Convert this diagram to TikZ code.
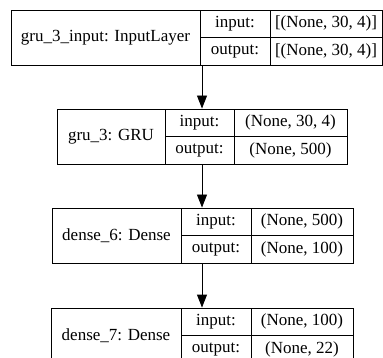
\documentclass[tikz,border=0pt]{standalone}
\usepackage{fontspec}
\setmainfont{Liberation Serif}
\usetikzlibrary{arrows.meta}
\tikzset{
  cell/.style={draw=black, line width=0.9pt, inner sep=0pt, font=\fontsize{17}{20}\selectfont},
  arr/.style={draw=black, line width=0.9pt, -{Triangle[length=13pt,width=10pt]}}
}
% name, x-left, x-div1, x-div2, x-right, y-top, label, input, output
\newcommand\klayer[9]{%
  \node[cell, minimum width={(#3-#2)*1pt}, minimum height=55pt] (#1l) at ({(#2+#3)/2},{#6+27.5}) {#7};
  \node[cell, minimum width={(#4-#3)*1pt}, minimum height=27.5pt] (#1ik) at ({(#3+#4)/2},{#6+13.75}) {input:};
  \node[cell, minimum width={(#5-#4)*1pt}, minimum height=27.5pt] (#1iv) at ({(#4+#5)/2},{#6+13.75}) {#8};
  \node[cell, minimum width={(#4-#3)*1pt}, minimum height=27.5pt] (#1ok) at ({(#3+#4)/2},{#6+41.25}) {output:};
  \node[cell, minimum width={(#5-#4)*1pt}, minimum height=27.5pt] (#1ov) at ({(#4+#5)/2},{#6+41.25}) {#9};
}
\begin{document}
\begin{tikzpicture}[x=1pt,y=-1pt]
  \useasboundingbox (0,0) rectangle (383,358);
  \clip (0,0) rectangle (383,358);
  \klayer{a}{11}{200}{270}{382}{10}{gru\_3\_input: InputLayer}{[(None, 30, 4)]}{[(None, 30, 4)]}
  \klayer{b}{57}{165}{234}{347}{109}{gru\_3: GRU}{(None, 30, 4)}{(None, 500)}
  \klayer{c}{52}{181}{251}{353}{208}{dense\_6: Dense}{(None, 500)}{(None, 100)}
  \klayer{d}{51}{181}{251}{353}{308}{dense\_7: Dense}{(None, 100)}{(None, 22)}
  \coordinate (ax) at (202,0);
  \draw[arr] (al.south -| ax) -- (bl.north -| ax);
  \draw[arr] (bl.south -| ax) -- (cl.north -| ax);
  \draw[arr] (cl.south -| ax) -- (dl.north -| ax);
\end{tikzpicture}
\end{document}
